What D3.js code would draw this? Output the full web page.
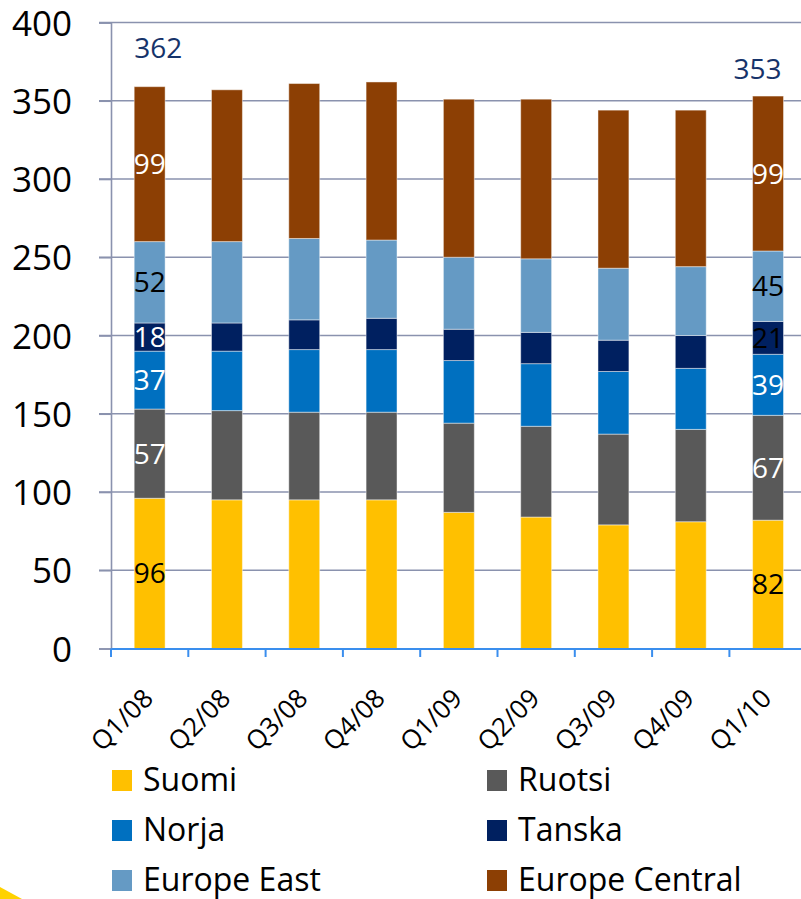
<!DOCTYPE html>
<html>
<head>
<meta charset="utf-8">
<script src="https://cdn.jsdelivr.net/npm/d3@7"></script>
<style>
  body { margin: 0; background: #fff; }
  svg { display: block; font-family: "Open Sans", sans-serif; }
</style>
</head>
<body>
<svg id="chart" width="801" height="899"></svg>
<script>
const quarters = ["Q1/08", "Q2/08", "Q3/08", "Q4/08", "Q1/09", "Q2/09", "Q3/09", "Q4/09", "Q1/10"];
const suomi = [96, 95, 95, 95, 87, 84, 79, 81, 82];
const ruotsi = [57, 57, 56, 56, 57, 58, 58, 59, 67];
const norja = [37, 38, 40, 40, 40, 40, 40, 39, 39];
const tanska = [18, 18, 19, 20, 20, 20, 20, 21, 21];
const europeEast = [52, 52, 52, 50, 46, 47, 46, 44, 45];
const europeCentral = [99, 97, 99, 101, 101, 102, 101, 100, 99];
const yTicks = [0, 50, 100, 150, 200, 250, 300, 350, 400];

// labels shown only on first and last bar
const labelBars = [0, 8];
const totalLabels = [362, 353];

const series = [
  { key: "Suomi", values: suomi, color: "#FFC000" },
  { key: "Ruotsi", values: ruotsi, color: "#595959" },
  { key: "Norja", values: norja, color: "#0070C0" },
  { key: "Tanska", values: tanska, color: "#002060" },
  { key: "Europe East", values: europeEast, color: "#659AC4" },
  { key: "Europe Central", values: europeCentral, color: "#8C3F04" },
];

const labelColor = (key, i) => {
  if (key === "Suomi" || key === "Europe East") return "#000";
  if (key === "Tanska" && i === 8) return "#000";
  return "#fff";
};

const table = quarters.map((q, i) => {
  let row = { quarter: q };
  series.forEach((s) => (row[s.key] = s.values[i]));
  return row;
});

const stacked = d3.stack().keys(series.map((s) => s.key))(table);

const svg = d3.select("#chart");

const x = d3.scaleBand()
  .domain(quarters)
  .range([111, 111 + 77.3 * 9])
  .paddingInner(0.6)
  .paddingOuter(0.3);

const y = d3.scaleLinear().domain([0, 400]).range([648.5, 22.5]);

// gridlines
svg.append("g")
  .selectAll("line")
  .data(yTicks.slice(1))
  .enter()
  .append("line")
  .attr("x1", 99)
  .attr("x2", 801)
  .attr("y1", (d) => y(d))
  .attr("y2", (d) => y(d))
  .attr("stroke", "#8A92AE")
  .attr("stroke-width", 1.6);

// y axis
const yAxis = svg.append("g")
  .attr("transform", "translate(111,0)")
  .call(d3.axisLeft(y).tickValues(yTicks).tickSize(12).tickPadding(27));
yAxis.select(".domain").attr("stroke", "#8A92AE").attr("stroke-width", 1.6);
yAxis.selectAll(".tick line").attr("stroke", "#8A92AE").attr("stroke-width", 1.6);
yAxis.selectAll(".tick text")
  .attr("font-size", 35)
  .attr("font-family", "Open Sans")
  .attr("fill", "#000")
  .attr("dy", "0.36em");

// bars
const layers = svg.append("g")
  .selectAll("g")
  .data(stacked)
  .enter()
  .append("g")
  .attr("fill", (d, i) => series[i].color);

layers.selectAll("rect")
  .data((d) => d)
  .enter()
  .append("rect")
  .attr("x", (d) => x(d.data.quarter))
  .attr("width", x.bandwidth())
  .attr("y", (d) => y(d[1]))
  .attr("height", (d) => y(d[0]) - y(d[1]))
  .attr("stroke", "rgba(255,255,255,0.45)")
  .attr("stroke-width", 1);

// x axis
const xAxis = svg.append("g")
  .attr("transform", "translate(0,648.5)")
  .call(d3.axisBottom(x).tickSize(0).tickFormat(""));
xAxis.select(".domain").attr("stroke", "#3A8EEE").attr("stroke-width", 2.2);

// category boundary ticks
const gap = (x.step() - x.bandwidth()) / 2;
svg.append("g")
  .selectAll("line")
  .data(quarters)
  .enter()
  .append("line")
  .attr("x1", (d) => x(d) - gap)
  .attr("x2", (d) => x(d) - gap)
  .attr("y1", 648.5)
  .attr("y2", 657)
  .attr("stroke", "#3A8EEE")
  .attr("stroke-width", 2);

svg.append("g")
  .selectAll("text")
  .data(quarters)
  .enter()
  .append("text")
  .attr("transform", (d) => `translate(${x(d) + x.bandwidth() / 2 + 5},700) rotate(-45)`)
  .attr("text-anchor", "end")
  .attr("font-size", 26)
  .attr("fill", "#000")
  .text((d) => d);

// data labels
stacked.forEach((layer, si) => {
  labelBars.forEach((bi) => {
    let d = layer[bi];
    svg.append("text")
      .attr("x", x(quarters[bi]) + x.bandwidth() / 2)
      .attr("y", y((d[0] + d[1]) / 2))
      .attr("dy", "0.36em")
      .attr("text-anchor", "middle")
      .attr("font-size", 28)
      .attr("fill", labelColor(series[si].key, bi))
      .text(series[si].values[bi]);
  });
});

// total labels
const topLayer = stacked[stacked.length - 1];
labelBars.forEach((bi, k) => {
  let first = k === 0;
  svg.append("text")
    .attr("x", first ? x(quarters[bi]) : x(quarters[bi]) + x.bandwidth() - 2)
    .attr("y", y(topLayer[bi][1]) - (first ? 29 : 17))
    .attr("text-anchor", first ? "start" : "end")
    .attr("font-size", 28)
    .attr("fill", "#16336A")
    .text(totalLabels[k]);
});

// legend
const legend = svg.append("g")
  .selectAll("g")
  .data(series)
  .enter()
  .append("g")
  .attr("transform", (d, i) => `translate(${i % 2 === 0 ? 112 : 487},${770 + Math.floor(i / 2) * 50})`);

legend.append("rect")
  .attr("width", 20)
  .attr("height", 21)
  .attr("fill", (d) => d.color);

legend.append("text")
  .attr("x", 31)
  .attr("y", 21)
  .attr("font-size", 32)
  .attr("fill", "#000")
  .text((d) => d.key);

// corner decoration
svg.append("path")
  .attr("d", "M0,887 L22,899 L0,899 Z")
  .attr("fill", "#FFD200");
</script>
</body>
</html>
